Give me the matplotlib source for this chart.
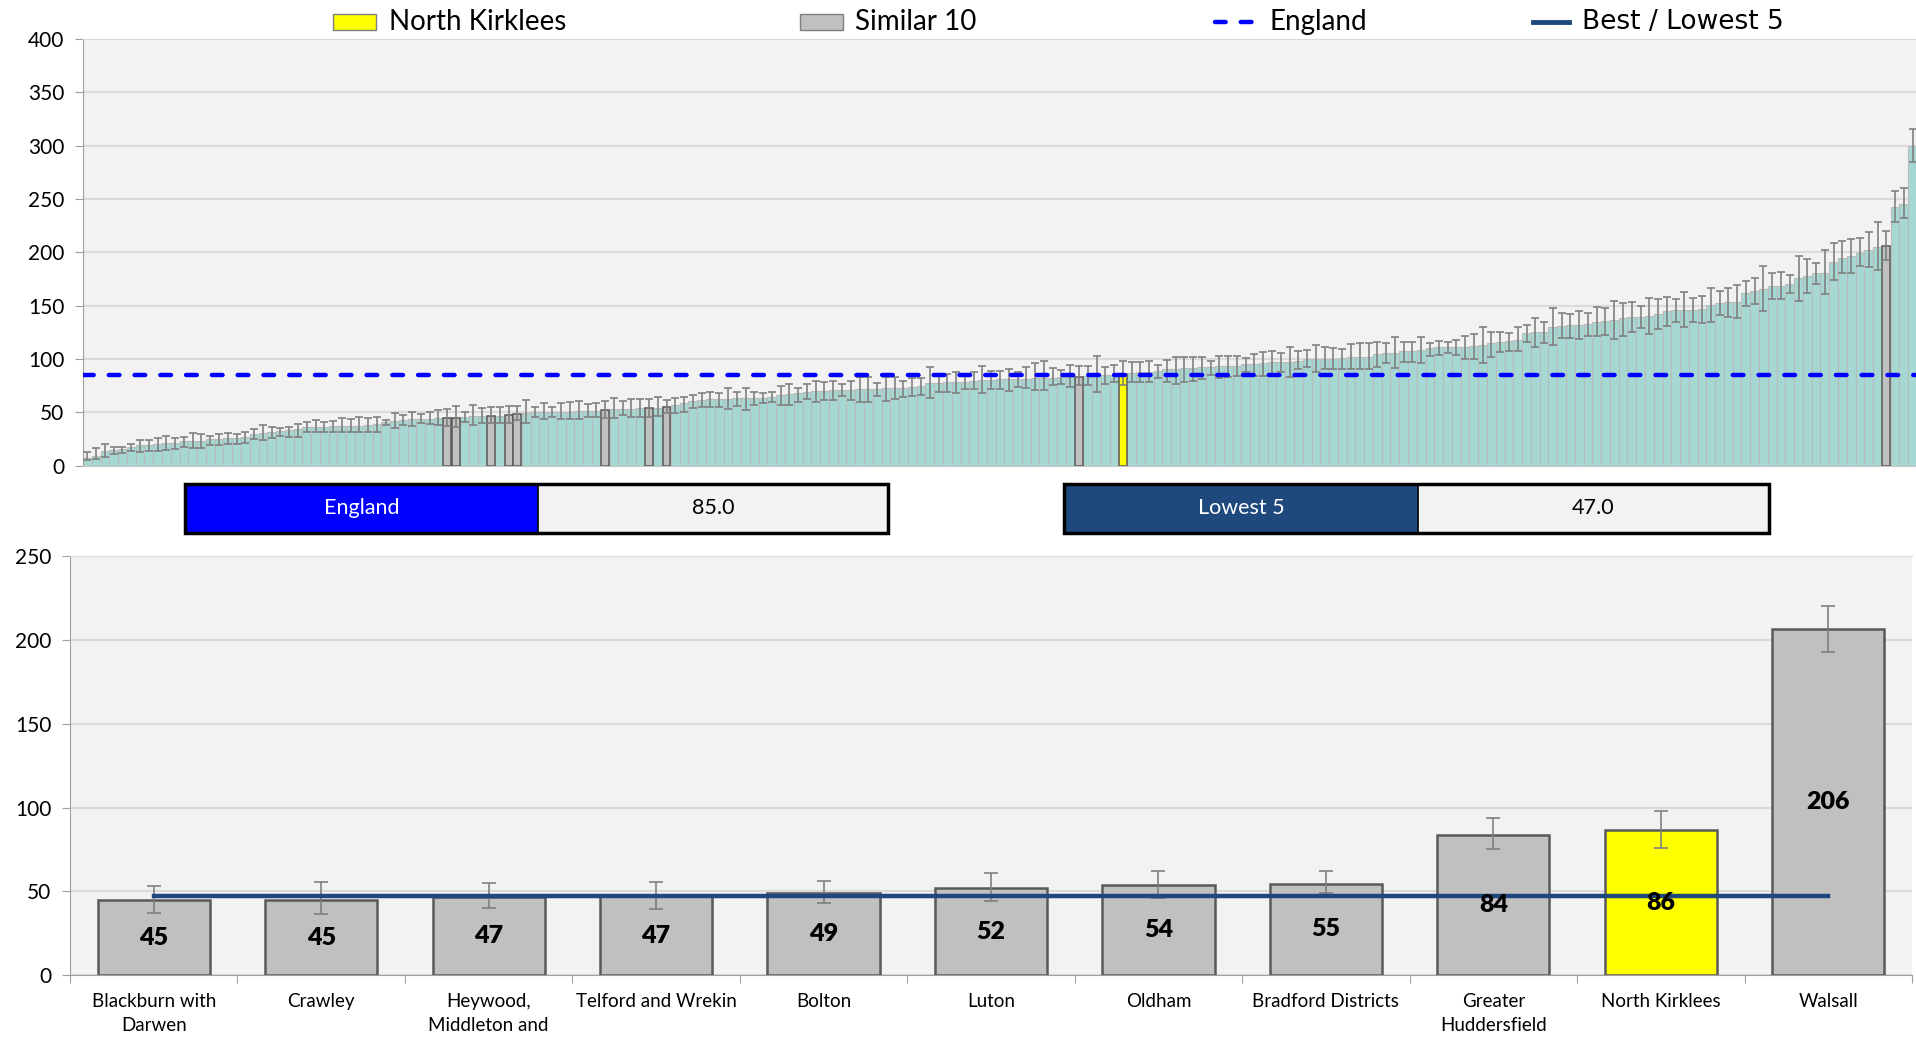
import matplotlib
matplotlib.use('Agg')
import matplotlib.pyplot as plt
import numpy as np
from matplotlib.patches import Rectangle
from matplotlib.lines import Line2D

plt.rcParams['font.family'] = ['Lato', 'DejaVu Sans']

# all areas, sorted by rate (209 areas)
rates = [7.0, 9.0, 13.7, 15.0, 15.6, 17.8, 19.4, 19.4, 20.3, 21.0,
         21.6, 23.0, 23.4, 23.4, 24.7, 24.7, 25.6, 25.6, 26.6, 29.7,
         31.0, 31.3, 32.8, 33.4, 34.0, 36.0, 36.6, 36.6, 37.2, 37.2,
         37.2, 37.5, 38.0, 38.7, 41.3, 42.2, 42.8, 43.7, 44.0, 44.2,
         44.4, 44.6, 44.8, 46.0, 46.3, 46.5, 46.6, 46.9, 47.1, 48.9,
         49.2, 50.3, 50.3, 50.6, 50.6, 50.6, 51.4, 51.6, 51.7, 51.8,
         52.8, 53.4, 53.4, 53.8, 53.9, 54.3, 54.6, 57.0, 59.0, 60.6,
         62.0, 62.2, 62.2, 62.5, 63.0, 63.0, 63.8, 63.8, 64.7, 66.3,
         67.0, 67.8, 69.4, 70.3, 70.3, 71.0, 71.0, 71.0, 71.6, 72.0,
         72.0, 72.5, 72.5, 73.0, 74.0, 74.7, 77.2, 77.8, 78.0, 78.0,
         78.8, 79.7, 80.3, 80.3, 81.0, 81.2, 81.3, 81.3, 81.9, 82.5,
         82.5, 83.1, 83.4, 83.6, 84.4, 85.0, 85.0, 85.0, 86.3, 87.2,
         88.0, 88.0, 88.7, 90.3, 91.0, 91.2, 91.2, 92.2, 92.8, 93.4,
         93.4, 93.7, 95.0, 95.3, 96.0, 96.9, 97.5, 97.5, 98.4, 100.0,
         100.3, 100.3, 100.3, 100.6, 102.2, 102.2, 102.2, 104.4, 105.3, 106.0,
         107.5, 107.5, 108.4, 110.0, 111.0, 111.0, 111.6, 111.6, 112.2, 113.0,
         114.7, 116.2, 117.0, 117.8, 124.0, 125.0, 125.0, 129.7, 131.2, 131.9,
         131.9, 132.8, 134.4, 135.6, 136.6, 138.0, 139.0, 139.0, 140.3, 141.9,
         145.0, 146.0, 146.0, 146.0, 146.9, 150.6, 152.8, 153.0, 153.7, 161.6,
         163.7, 165.3, 168.4, 168.7, 170.3, 175.6, 177.8, 180.3, 181.0, 191.0,
         194.4, 196.6, 199.7, 202.2, 205.3, 206.3, 242.5, 245.6, 300.0]

lower = [5.3, 6.3, 8.4, 10.6, 12.2, 14.1, 12.5, 13.8, 14.1, 14.7,
         15.6, 17.5, 16.9, 16.9, 19.1, 19.1, 20.0, 20.0, 21.6, 24.7,
         24.1, 26.3, 27.8, 26.6, 26.6, 31.3, 31.3, 31.9, 31.9, 31.9,
         31.9, 31.3, 31.9, 31.3, 38.1, 35.0, 38.1, 37.2, 39.7, 38.8,
         37.8, 37.0, 36.4, 41.3, 38.1, 40.3, 40.0, 40.3, 39.7, 43.0,
         40.3, 46.0, 43.4, 46.0, 43.4, 43.4, 43.8, 46.0, 46.0, 44.5,
         45.0, 47.5, 46.0, 46.0, 46.0, 46.6, 49.0, 49.1, 50.3, 53.8,
         54.7, 54.7, 55.3, 52.8, 55.9, 52.2, 57.2, 58.4, 60.0, 56.9,
         56.9, 60.0, 62.2, 59.4, 61.6, 61.6, 65.3, 61.6, 59.4, 60.0,
         65.3, 60.9, 62.2, 64.7, 65.3, 66.3, 63.1, 68.8, 68.8, 68.4,
         71.6, 71.6, 68.4, 71.6, 71.9, 70.3, 73.4, 72.5, 70.9, 70.9,
         75.6, 76.6, 74.1, 75.2, 75.6, 68.8, 76.6, 78.8, 76.0, 78.8,
         78.8, 78.8, 81.9, 78.8, 76.6, 78.1, 79.4, 81.3, 85.0, 82.5,
         83.4, 84.4, 88.1, 84.4, 84.4, 85.0, 88.1, 83.4, 90.6, 92.2,
         88.1, 90.3, 90.3, 90.9, 90.9, 90.3, 90.3, 92.8, 95.9, 91.3,
         97.5, 97.5, 95.9, 102.8, 103.8, 105.3, 103.8, 99.7, 99.7, 96.6,
         101.6, 106.9, 107.8, 107.8, 116.3, 111.6, 114.7, 113.1, 119.4, 119.4,
         118.4, 121.9, 121.9, 122.5, 118.4, 122.0, 125.6, 128.8, 123.4, 127.8,
         130.9, 135.0, 129.7, 134.4, 133.4, 135.0, 141.3, 139.0, 138.1, 150.0,
         151.6, 145.3, 155.9, 156.3, 161.6, 154.7, 161.6, 170.3, 161.0, 173.8,
         180.3, 180.3, 187.2, 186.0, 183.4, 192.5, 228.1, 231.9, 284.4]

upper = [12.5, 16.3, 20.3, 17.8, 17.2, 20.3, 24.1, 24.1, 26.3, 27.5,
         26.3, 27.2, 30.3, 30.0, 27.8, 29.4, 30.3, 29.7, 31.9, 34.7,
         38.4, 35.9, 35.0, 36.6, 38.8, 41.3, 42.5, 41.3, 42.2, 44.4,
         43.8, 45.3, 44.4, 45.3, 42.8, 49.1, 47.5, 50.6, 48.1, 50.6,
         52.2, 53.4, 55.6, 50.6, 56.6, 54.4, 54.7, 55.3, 55.8, 56.0,
         61.6, 55.3, 58.4, 55.3, 59.1, 59.4, 60.9, 57.8, 59.1, 61.0,
         63.1, 60.3, 62.2, 62.2, 62.3, 64.1, 62.0, 63.1, 64.7, 66.0,
         67.8, 69.4, 68.4, 72.5, 69.4, 73.1, 69.4, 67.8, 68.8, 74.7,
         76.3, 73.1, 76.3, 79.7, 78.1, 79.7, 76.3, 79.7, 83.4, 82.8,
         77.8, 83.4, 82.8, 79.4, 81.9, 82.5, 92.2, 85.9, 85.9, 87.5,
         85.9, 87.5, 93.4, 89.1, 89.1, 90.3, 88.1, 92.2, 95.9, 97.8,
         91.9, 89.7, 94.4, 93.7, 93.8, 103.1, 92.8, 94.4, 97.8, 96.9,
         97.5, 98.1, 94.4, 99.1, 102.2, 101.6, 102.2, 101.6, 98.1, 103.1,
         102.5, 102.5, 100.6, 104.7, 106.3, 107.8, 105.9, 111.6, 107.8, 108.4,
         113.1, 110.9, 110.6, 109.7, 114.1, 115.3, 114.7, 116.3, 114.7, 120.3,
         116.3, 116.3, 120.9, 115.3, 117.2, 116.3, 117.8, 121.9, 123.1, 129.7,
         125.6, 125.6, 124.7, 129.7, 131.9, 138.1, 135.0, 147.5, 143.1, 142.2,
         145.3, 143.1, 148.4, 147.5, 154.7, 152.8, 153.1, 149.7, 157.2, 156.3,
         158.4, 156.6, 163.1, 157.2, 159.4, 166.3, 163.8, 166.9, 169.4, 173.1,
         176.3, 186.9, 180.9, 181.6, 179.1, 196.9, 194.1, 189.7, 202.2, 208.4,
         210.3, 212.8, 213.1, 219.4, 228.1, 220.0, 257.5, 260.3, 315.9]

# North Kirklees and its similar 10 (rank position in the sorted list)
local_names = ['Blackburn with\nDarwen', 'Crawley', 'Heywood,\nMiddleton and',
               'Telford and Wrekin', 'Bolton', 'Luton', 'Oldham', 'Bradford Districts',
               'Greater\nHuddersfield', 'North Kirklees', 'Walsall']
local_rank = [41, 42, 46, 48, 49, 59, 64, 66, 113, 118, 205]
home = 'North Kirklees'

england = 85.0
lowest5 = 47.0

W, H = 1916, 1037
fig = plt.figure(figsize=(W / 100, H / 100), dpi=100)


def fx(px):
    return px / W


def fy(py):
    return 1 - py / H


rates = np.array(rates)
lower = np.array(lower)
upper = np.array(upper)
local_cols = ['#FFFF00' if n == home else '#C0C0C0' for n in local_names]

# ---- top chart: all areas
ax1 = fig.add_axes([fx(83), fy(465.7), fx(1917) - fx(83), (465.7 - 39) / H])
x = np.arange(len(rates))
ax1.bar(x, rates, width=1.0, color='#A6D8D3', edgecolor='#BBBBBB', linewidth=0.8, zorder=2)
ax1.bar(local_rank, rates[local_rank], width=0.9, color=local_cols,
        edgecolor='#595959', linewidth=1.1, zorder=3)
ax1.errorbar(x, rates, yerr=[np.maximum(rates - lower, 0), np.maximum(upper - rates, 0)],
             fmt='none', ecolor='#808080', elinewidth=1.2, capsize=3, capthick=1.2, zorder=4)
ax1.axhline(england, color='#0000FF', lw=3.2, ls=(0, (2.4, 3.4)), dash_capstyle='round', zorder=5)
ax1.set_xlim(-0.5, len(rates) - 0.5)
ax1.set_ylim(0, 400)
ax1.set_yticks(range(0, 401, 50))
ax1.set_xticks([])
ax1.set_facecolor('#F2F2F2')
ax1.grid(axis='y', color='#DADADA', lw=1.5)
ax1.set_axisbelow(True)
ax1.spines['right'].set_visible(False)
ax1.spines['top'].set_color('#DADADA')
ax1.spines['left'].set_color('#A0A0A0')
ax1.spines['bottom'].set_color('#C8C8C8')
ax1.tick_params(axis='y', labelsize=15, length=5.5, color='#A0A0A0', pad=8)

# ---- bottom chart: North Kirklees and similar 10
vals = rates[local_rank]
lo = lower[local_rank]
hi = upper[local_rank]
ax2 = fig.add_axes([fx(70), fy(975.2), fx(1912) - fx(70), (975.2 - 556) / H])
xi = np.arange(len(local_names))
ax2.bar(xi, vals, width=0.67, color=local_cols, edgecolor='#595959', linewidth=1.8, zorder=2)
ax2.errorbar(xi, vals, yerr=[vals - lo, hi - vals], fmt='none', ecolor='#808080',
             elinewidth=1.2, capsize=5, capthick=1.2, zorder=3)
ax2.plot([xi[0], xi[-1]], [lowest5, lowest5], color='#1F497D', lw=3.2, zorder=4)
for i, v in enumerate(vals):
    ax2.text(i, v / 2, f'{v:.0f}', ha='center', va='center', fontsize=18,
             fontweight='heavy', zorder=5)
ax2.set_xlim(-0.5, len(local_names) - 0.5)
ax2.set_ylim(0, 250)
ax2.set_yticks(range(0, 251, 50))
ax2.set_xticks(np.arange(-0.5, len(local_names), 1))
ax2.set_xticklabels([])
ax2.set_xticks(xi, minor=True)
ax2.set_xticklabels(local_names, minor=True, fontsize=13.5, linespacing=1.45, va='top')
ax2.tick_params(axis='x', which='major', length=6, color='#A0A0A0')
ax2.tick_params(axis='x', which='minor', length=0, pad=13)
ax2.set_facecolor('#F2F2F2')
ax2.grid(axis='y', color='#DADADA', lw=1.5)
ax2.set_axisbelow(True)
ax2.spines['right'].set_visible(False)
ax2.spines['top'].set_color('#DADADA')
ax2.spines['left'].set_color('#A0A0A0')
ax2.spines['bottom'].set_color('#A0A0A0')
ax2.tick_params(axis='y', labelsize=15, length=5.5, color='#A0A0A0', pad=8)

# ---- value boxes
def value_box(x0, xm, x1, label, value, col):
    y0, y1 = 484, 533
    fig.add_artist(Rectangle((fx(x0), fy(y1)), fx(xm) - fx(x0), (y1 - y0) / H,
                             transform=fig.transFigure, facecolor=col, edgecolor='none'))
    fig.add_artist(Rectangle((fx(xm), fy(y1)), fx(x1) - fx(xm), (y1 - y0) / H,
                             transform=fig.transFigure, facecolor='#F2F2F2', edgecolor='none'))
    fig.add_artist(Rectangle((fx(x0), fy(y1)), fx(x1) - fx(x0), (y1 - y0) / H,
                             transform=fig.transFigure, facecolor='none', edgecolor='black', lw=2.5))
    fig.add_artist(Line2D([fx(xm), fx(xm)], [fy(y0), fy(y1)], transform=fig.transFigure,
                          color='black', lw=1.2))
    fig.text(fx((x0 + xm) / 2), fy((y0 + y1) / 2), label, color='white', fontsize=15.5,
             ha='center', va='center')
    fig.text(fx((xm + x1) / 2), fy((y0 + y1) / 2), f'{value:.1f}', color='black', fontsize=15.5,
             ha='center', va='center')


value_box(185, 538, 888, 'England', england, '#0000FF')
value_box(1064, 1418, 1769, 'Lowest 5', lowest5, '#1F497D')

# ---- legend
ly = 22
fig.add_artist(Rectangle((fx(333), fy(30)), fx(376) - fx(333), 16 / H, transform=fig.transFigure,
                         facecolor='#FFFF00', edgecolor='#7F7F7F', lw=1))
fig.text(fx(389), fy(ly), 'North Kirklees', fontsize=20, va='center')
fig.add_artist(Rectangle((fx(800), fy(30)), fx(843) - fx(800), 16 / H, transform=fig.transFigure,
                         facecolor='#C0C0C0', edgecolor='#7F7F7F', lw=1))
fig.text(fx(855), fy(ly), 'Similar 10', fontsize=20, va='center')
fig.add_artist(Line2D([fx(1215), fx(1253)], [fy(ly), fy(ly)], transform=fig.transFigure,
                      color='#0000FF', lw=3.2, ls=(0, (2.4, 3.4)), dash_capstyle='round'))
fig.text(fx(1270), fy(ly), 'England', fontsize=20, va='center')
fig.add_artist(Line2D([fx(1533), fx(1569)], [fy(ly), fy(ly)], transform=fig.transFigure,
                      color='#1F497D', lw=3.5))
fig.text(fx(1582), fy(ly), 'Best / Lowest 5', fontsize=19, va='center', family='DejaVu Sans')

fig.savefig('out.png', dpi=100, facecolor='white')
